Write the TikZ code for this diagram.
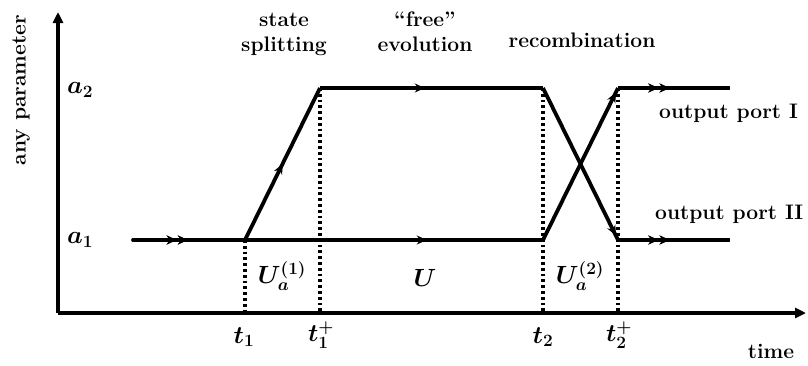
\documentclass[tikz,border=0pt]{standalone}
\usepackage{fontspec}
\usetikzlibrary{arrows.meta,decorations.markings}
\begin{document}
\begin{tikzpicture}[x=1pt,y=-1pt,
  thick line/.style={line width=3.8pt},
  dotline/.style={line width=3.2pt,dash pattern=on 2.8pt off 3pt},
  arrowat/.style={postaction={decorate},decoration={markings,mark=at position #1 with {\arrow{Stealth[length=10pt,width=9pt]}}}},
  lbl/.style={font=\fontsize{21}{25}\selectfont\bfseries\boldmath,inner sep=1pt},
  mlbl/.style={font=\fontsize{24}{26}\selectfont\bfseries\boldmath,inner sep=1pt}]
\useasboundingbox (0,0) rectangle (808,365);
% coordinates
\coordinate (O) at (58,313);
\coordinate (Ytop) at (58,12);
\coordinate (Xend) at (806,313);
\coordinate (start) at (133,240);
\coordinate (t1b) at (245,240);
\coordinate (t1pt) at (320,88);
\coordinate (t2t) at (543,88);
\coordinate (t2b) at (543,240);
\coordinate (t2pt) at (618,88);
\coordinate (t2pb) at (618,240);
\coordinate (endt) at (730,88);
\coordinate (endb) at (730,240);
\coordinate (t1ax) at (245,313);
\coordinate (t1pax) at (320,313);
\coordinate (t2ax) at (543,313);
\coordinate (t2pax) at (618,313);
% axes
\draw[thick line,-{Triangle[length=11pt,width=10pt]}] (O) -- (Ytop);
\draw[thick line,-{Triangle[length=11pt,width=10pt]}] (O) -- (Xend);
% dotted verticals
\draw[dotline] (t1b) -- (t1ax);
\draw[dotline] (t1pt) -- (t1pax);
\draw[dotline] (t2t) -- (t2ax);
\draw[dotline] (t2pt) -- (t2pax);
% trajectories
\draw[thick line,arrowat=0.39,arrowat=0.49,line cap=round] (start) -- (t1b);
\draw[thick line,arrowat=0.61] (t1b) -- (t2b);
\draw[thick line,arrowat=0.5,line join=round] (t1b) -- (t1pt);
\draw[thick line,arrowat=0.47] (t1pt) -- (t2t);
\draw[thick line,arrowat=0.97] (t2t) -- (t2pb);
\draw[thick line,arrowat=0.97] (t2b) -- (t2pt);
\draw[thick line,arrowat=0.36,arrowat=0.46] (t2pt) -- (endt);
\draw[thick line,arrowat=0.36,arrowat=0.46] (t2pb) -- (endb);
% labels
\node[mlbl] (a2) at (80,90) {$a_2$};
\node[mlbl] (a1) at (80,240) {$a_1$};
\node[lbl,rotate=90] (yl) at (21,90) {any parameter};
\node[lbl] (time) at (771,351) {time};
\node[mlbl] (lt1) at (244,337) {$t_1$};
\node[mlbl] (lt1p) at (321,335) {$t_1^+$};
\node[mlbl] (lt2) at (543,337) {$t_2$};
\node[mlbl] (lt2p) at (619,335) {$t_2^+$};
\node[mlbl] (U1) at (282,276) {$U_a^{(1)}$};
\node[mlbl] (U) at (425,278) {$U$};
\node[mlbl] (U2) at (580,276) {$U_a^{(2)}$};
\node[lbl,align=center] (split) at (284,34) {state\\splitting};
\node[lbl,align=center] (free) at (425,32) {``free''\\evolution};
\node[lbl] (rec) at (582,40) {recombination};
\node[lbl,anchor=west] (p1) at (658,113) {output port I};
\node[lbl,anchor=west] (p2) at (654,214) {output port II};
\end{tikzpicture}
\end{document}
